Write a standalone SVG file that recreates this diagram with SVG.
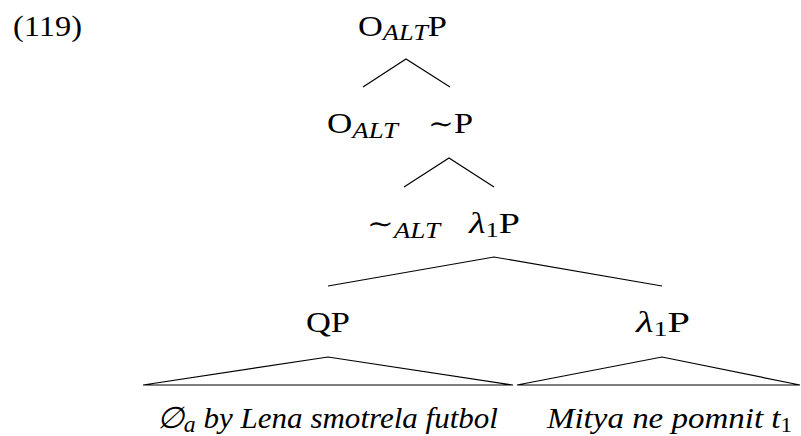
<svg xmlns="http://www.w3.org/2000/svg" width="801" height="436" viewBox="0 0 801 436">
<style>
text{font-family:"Liberation Serif","DejaVu Serif",serif;font-size:30px;fill:#000}
.sub{font-size:23px;font-style:italic}
.subr{font-size:21px;font-style:normal}
.it{font-style:italic}
.tl{font-family:"DejaVu Serif",serif;font-size:27px}
.ln{stroke:#000;stroke-width:1.2;fill:none}
</style>
<rect width="801" height="436" fill="#fff"/>
<text id="exnum" x="13" y="36" textLength="69" lengthAdjust="spacingAndGlyphs">(119)</text>
<g id="n-root"><text x="358" y="36" textLength="89" lengthAdjust="spacingAndGlyphs">O<tspan class="sub" dy="4">ALT</tspan><tspan dy="-4">P</tspan></text></g>
<g id="n-oalt"><text x="327" y="133" textLength="71" lengthAdjust="spacingAndGlyphs">O<tspan class="sub" dy="5">ALT</tspan></text></g>
<g id="n-tildeP"><text x="428" y="133" textLength="45" lengthAdjust="spacingAndGlyphs"><tspan class="tl">∼</tspan>P</text></g>
<g id="n-tildealt"><text x="367" y="233" textLength="73" lengthAdjust="spacingAndGlyphs"><tspan class="tl">∼</tspan><tspan class="sub" dy="5">ALT</tspan></text></g>
<g id="n-lambda1"><text x="469" y="233" textLength="51" lengthAdjust="spacingAndGlyphs"><tspan class="it">λ</tspan><tspan class="subr" dy="4">1</tspan><tspan dy="-4">P</tspan></text></g>
<g id="n-qp"><text x="306" y="332" textLength="44" lengthAdjust="spacingAndGlyphs">QP</text></g>
<g id="n-lambda2"><text x="636" y="332" textLength="54" lengthAdjust="spacingAndGlyphs"><tspan class="it">λ</tspan><tspan class="subr" dy="4">1</tspan><tspan dy="-4">P</tspan></text></g>
<g id="n-leaf1"><text class="it" x="157" y="428" textLength="341" lengthAdjust="spacingAndGlyphs">∅<tspan class="sub" dy="4">a</tspan><tspan dy="-4"> by Lena smotrela futbol</tspan></text></g>
<g id="n-leaf2"><text class="it" x="547" y="428" textLength="245" lengthAdjust="spacingAndGlyphs">Mitya ne pomnit t<tspan class="subr" dy="4">1</tspan></text></g>
<g id="connectors">
<polyline class="ln" points="363,87 406,59 450,87"/>
<polyline class="ln" points="404,187 449,158 494,187"/>
<polyline class="ln" points="328,286 494,257 662,286"/>
<polygon class="ln" points="143,385 328,357 513,385"/>
<polygon class="ln" points="517,385 662,357 800,385"/>
</g>
</svg>
